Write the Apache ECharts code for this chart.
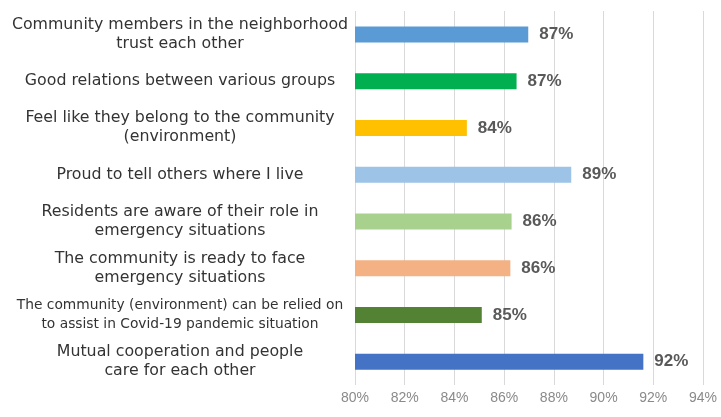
<!DOCTYPE html>
<html>
<head>
<meta charset="utf-8">
<script src="https://cdn.jsdelivr.net/npm/echarts@6/dist/echarts.min.js"></script>
<style>
  html, body { margin: 0; padding: 0; background: #fff; }
  #main { width: 721px; height: 417px; }
</style>
</head>
<body>
<div id="main"></div>
<script>
// categories, top to bottom
var categories = [
  'Community members in the neighborhood\ntrust each other',
  'Good relations between various groups',
  'Feel like they belong to the community\n(environment)',
  'Proud to tell others where I live',
  'Residents are aware of their role in\nemergency situations',
  'The community is ready to face\nemergency situations',
  'The community (environment) can be relied on\nto assist in Covid-19 pandemic situation',
  'Mutual cooperation and people\ncare for each other'
];
// bar lengths
var values = [86.97, 86.5, 84.5, 88.7, 86.3, 86.25, 85.1, 91.6];
// printed labels
var labelValues = [87, 87, 84, 89, 86, 86, 85, 92];
var barColors = ['#5B9BD5', '#00B050', '#FFC000', '#9DC3E6', '#A9D18E', '#F4B183', '#548235', '#4472C4'];
var xTicks = { min: 80, max: 94, step: 2 };

var chart = echarts.init(document.getElementById('main'));

var seriesData = [];
for (var i = 0; i < values.length; i++) {
  seriesData.push({ value: values[i], itemStyle: { color: barColors[i] } });
}

var option = {
  backgroundColor: '#fff',
  animation: false,
  grid: { left: 355, right: 18, top: 11, bottom: 32, outerBoundsMode: 'none' },
  xAxis: {
    type: 'value',
    min: xTicks.min,
    max: xTicks.max,
    interval: xTicks.step,
    axisLine: { show: false },
    axisTick: { show: false },
    axisLabel: {
      formatter: '{value}%',
      color: '#8a8a8a',
      fontSize: 14,
      fontFamily: 'Liberation Sans, Arial, sans-serif',
      margin: 6
    },
    splitLine: { show: true, lineStyle: { color: '#d9d9d9', width: 1 } }
  },
  yAxis: {
    type: 'category',
    inverse: true,
    data: categories,
    axisLine: { show: false },
    axisTick: { show: false },
    axisLabel: {
      align: 'center',
      margin: 175,
      color: '#333',
      fontFamily: 'DejaVu Sans, Verdana, sans-serif',
      fontSize: 15.8,
      lineHeight: 19,
      formatter: function (val, idx) {
        if (idx === 6) return '{small|' + val.split('\n').join('}\n{small|') + '}';
        return val;
      },
      rich: {
        small: { fontSize: 13.8, lineHeight: 19, color: '#333', fontFamily: 'DejaVu Sans, Verdana, sans-serif' }
      }
    }
  },
  series: [{
    type: 'bar',
    data: seriesData,
    barWidth: 16,
    label: {
      show: true,
      position: 'right',
      distance: 11,
      color: '#595959',
      fontWeight: 'bold',
      fontSize: 17,
      fontFamily: 'Liberation Sans, Arial, sans-serif',
      formatter: function (p) { return labelValues[p.dataIndex] + '%'; }
    }
  }]
};

chart.setOption(option);
</script>
</body>
</html>
